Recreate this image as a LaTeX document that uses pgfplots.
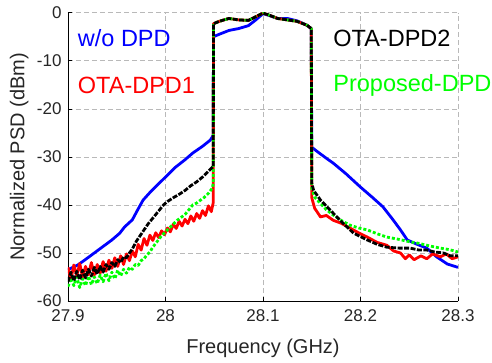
\documentclass[border=0pt]{standalone}
\usepackage{pgfplots}
\pgfplotsset{compat=1.18}
\usepackage{fontspec}
\setmainfont{Liberation Sans}
\begin{document}
\begin{tikzpicture}
\begin{axis}[
  scale only axis, width=390pt, height=288.3pt,
  xmin=27.9, xmax=28.3, ymin=-60, ymax=0,
  clip mode=individual,
  axis x line*=bottom, axis y line*=left,
  axis line style={line width=0.8pt, black},
  xtick={27.9,28,28.1,28.2,28.3},
  xticklabels={27.9,28,28.1,28.2,28.3},
  ytick={-60,-50,-40,-30,-20,-10,0},
  yticklabels={-60,-50,-40,-30,-20,-10,0},
  tick align=inside, major tick length=4pt,
  tick style={line width=0.6pt, black},
  /pgf/number format/assume math mode=true,
  ticklabel style={font=\fontsize{17}{17}\selectfont, text=black!85},
  xticklabel style={yshift=-5pt},
  yticklabel style={xshift=-3pt},
  xmajorgrids, ymajorgrids,
  grid style={dash pattern=on 5pt off 3pt, gray!55, line width=0.6pt},
  xlabel={Frequency (GHz)}, ylabel={Normalized PSD (dBm)},
  every axis x label/.style={at={(axis description cs:0.5,-0.163)}, anchor=center, font=\fontsize{20}{20}\selectfont, text=black!85},
  every axis y label/.style={at={(axis description cs:-0.125,0.5)}, rotate=90, anchor=center, font=\fontsize{20}{20}\selectfont, text=black!85},
  every axis plot/.append style={line width=2.8pt, line join=round},
]
% w/o DPD
\addplot[blue] coordinates {
(27.900,-53.5) (27.905,-53.0) (27.910,-52.5) (27.917,-51.5) (27.925,-50.3) (27.935,-48.8)
(27.945,-47.3) (27.953,-45.9) (27.958,-44.6) (27.966,-43.1) (27.971,-41.2) (27.977,-39.0)
(27.985,-37.2) (27.993,-35.6) (28.000,-34.2) (28.010,-32.2) (28.020,-30.6) (28.028,-29.2)
(28.038,-27.8) (28.046,-26.5) (28.049,-25.5)
(28.0492,-5.0) (28.055,-4.5) (28.065,-3.7) (28.075,-3.3) (28.085,-2.7) (28.092,-1.6)
(28.100,-0.2) (28.105,-0.5) (28.115,-1.2) (28.125,-1.2) (28.135,-1.7) (28.145,-2.6) (28.1495,-3.3)
(28.1500,-28.0) (28.155,-28.8) (28.165,-30.3) (28.172,-31.3) (28.185,-33.5) (28.200,-36.3)
(28.212,-38.4) (28.223,-40.4) (28.233,-43.0) (28.241,-45.2) (28.248,-47.3) (28.258,-48.2)
(28.268,-49.0) (28.278,-50.8) (28.289,-52.3) (28.300,-53.0)
};
% OTA-DPD1
\addplot[red] coordinates {
(27.900,-53.0) (27.903,-55.5) (27.906,-52.5) (27.909,-54.8) (27.912,-52.2) (27.915,-55.0)
(27.918,-52.8) (27.921,-54.5) (27.924,-52.0) (27.927,-54.6) (27.930,-52.4) (27.933,-54.2)
(27.936,-51.8) (27.939,-53.8) (27.942,-51.5) (27.945,-53.2) (27.948,-51.0) (27.951,-52.8)
(27.954,-50.6) (27.957,-52.4) (27.960,-50.2) (27.963,-51.6) (27.966,-49.6) (27.969,-50.8)
(27.972,-48.2) (27.975,-49.4) (27.978,-47.0) (27.981,-48.4) (27.984,-46.3) (27.987,-47.4)
(27.990,-45.8) (27.993,-46.8) (27.996,-45.4) (27.999,-46.2) (28.002,-44.8) (28.005,-45.6)
(28.008,-44.0) (28.011,-44.9) (28.014,-43.4) (28.017,-44.4) (28.020,-43.0) (28.023,-43.9)
(28.026,-42.3) (28.029,-43.4) (28.032,-41.8) (28.035,-42.8) (28.038,-41.2) (28.041,-42.2)
(28.044,-40.2) (28.047,-41.4) (28.049,-39.5)
(28.0492,-2.3) (28.055,-1.8) (28.065,-1.2) (28.075,-1.5) (28.085,-1.6) (28.095,-0.6)
(28.100,-0.1) (28.105,-0.4) (28.115,-1.2) (28.125,-1.5) (28.135,-1.8) (28.145,-2.6) (28.1495,-3.3)
(28.1500,-38.5) (28.153,-40.7) (28.159,-42.5) (28.165,-42.2) (28.172,-43.2) (28.180,-43.8)
(28.189,-44.8) (28.198,-45.8) (28.207,-46.7) (28.217,-47.8) (28.227,-48.4) (28.234,-49.6)
(28.241,-50.0) (28.246,-51.2) (28.250,-50.4) (28.255,-51.4) (28.262,-50.6) (28.268,-51.2)
(28.274,-50.2) (28.282,-50.8) (28.288,-50.2) (28.294,-51.2) (28.300,-50.8)
};
% Proposed-DPD
\addplot[green, dash pattern=on 3pt off 2pt] coordinates {
(27.900,-57.0) (27.903,-55.2) (27.906,-56.8) (27.909,-55.0) (27.912,-57.2) (27.915,-55.4)
(27.918,-56.8) (27.921,-54.8) (27.924,-56.6) (27.927,-55.0) (27.930,-56.4) (27.933,-54.6)
(27.936,-56.0) (27.939,-54.2) (27.942,-55.8) (27.945,-54.0) (27.948,-55.4) (27.951,-53.6)
(27.954,-54.8) (27.957,-53.4) (27.960,-54.2) (27.963,-53.0) (27.966,-53.4) (27.969,-52.4)
(27.972,-52.6) (27.975,-51.6) (27.978,-51.2) (27.981,-50.4) (27.984,-49.8) (27.987,-48.8)
(27.990,-48.0) (27.993,-47.2) (27.996,-46.4) (28.000,-45.6) (28.004,-44.8) (28.008,-44.0)
(28.012,-43.2) (28.016,-42.6) (28.020,-42.0) (28.024,-41.0) (28.028,-40.0) (28.032,-39.6)
(28.036,-39.0) (28.040,-38.4) (28.044,-37.6) (28.048,-36.5) (28.049,-35.5)
(28.0492,-2.3) (28.055,-1.8) (28.065,-1.2) (28.075,-1.5) (28.085,-1.6) (28.095,-0.6)
(28.100,-0.1) (28.105,-0.4) (28.115,-1.2) (28.125,-1.5) (28.135,-1.8) (28.145,-2.6) (28.1495,-3.3)
(28.1500,-36.5) (28.153,-38.4) (28.159,-39.7) (28.165,-41.0) (28.172,-42.1) (28.180,-43.2)
(28.189,-44.2) (28.198,-44.8) (28.207,-45.2) (28.217,-46.0) (28.227,-46.7) (28.240,-47.2)
(28.251,-47.7) (28.260,-48.0) (28.270,-48.5) (28.282,-49.0) (28.291,-49.3) (28.300,-49.8)
};
% OTA-DPD2
\addplot[black, dash pattern=on 5pt off 1.5pt] coordinates {
(27.900,-56.0) (27.903,-54.0) (27.906,-55.8) (27.909,-53.8) (27.912,-55.6) (27.915,-53.6)
(27.918,-55.2) (27.921,-53.4) (27.924,-54.8) (27.927,-53.0) (27.930,-54.4) (27.933,-52.8)
(27.936,-54.0) (27.939,-52.4) (27.942,-53.4) (27.945,-52.0) (27.948,-52.8) (27.951,-51.4)
(27.954,-52.0) (27.957,-50.8) (27.960,-51.0) (27.963,-50.0) (27.966,-49.2) (27.970,-47.6)
(27.974,-46.4) (27.978,-45.2) (27.982,-44.0) (27.986,-43.0) (27.990,-42.0) (27.994,-41.0)
(27.998,-40.0) (28.002,-39.3) (28.008,-38.5) (28.014,-37.8) (28.020,-37.0) (28.026,-36.0)
(28.032,-35.2) (28.038,-34.2) (28.044,-33.0) (28.049,-32.0)
(28.0492,-2.3) (28.055,-1.8) (28.065,-1.2) (28.075,-1.5) (28.085,-1.6) (28.095,-0.6)
(28.100,-0.1) (28.105,-0.4) (28.115,-1.2) (28.125,-1.5) (28.135,-1.8) (28.145,-2.6) (28.1495,-3.3)
(28.1500,-35.5) (28.152,-37.0) (28.159,-39.0) (28.169,-41.1) (28.182,-43.8) (28.193,-45.9)
(28.207,-47.3) (28.217,-48.2) (28.227,-48.8) (28.240,-49.0) (28.251,-49.0) (28.260,-49.4)
(28.268,-49.4) (28.276,-49.8) (28.285,-50.0) (28.292,-50.6) (28.300,-50.6)
};
\node[anchor=west, inner sep=0pt, text=blue, font=\fontsize{23.5}{23.5}\selectfont] at (axis cs:27.910,-5.27) {w/o DPD};
\node[anchor=west, inner sep=0pt, text=red, font=\fontsize{23.5}{23.5}\selectfont] at (axis cs:27.910,-15.06) {OTA-DPD1};
\node[anchor=west, inner sep=0pt, text=black, font=\fontsize{23.5}{23.5}\selectfont] at (axis cs:28.172,-5.27) {OTA-DPD2};
\node[anchor=west, inner sep=0pt, text=green, font=\fontsize{23.5}{23.5}\selectfont] at (axis cs:28.172,-15.06) {Proposed-DPD};
\coordinate (O) at (rel axis cs:0,0);
\end{axis}
\pgfresetboundingbox
\path[use as bounding box] (O) ++(-68pt,-61pt) rectangle ++(492pt,362pt);
\end{tikzpicture}
\end{document}
